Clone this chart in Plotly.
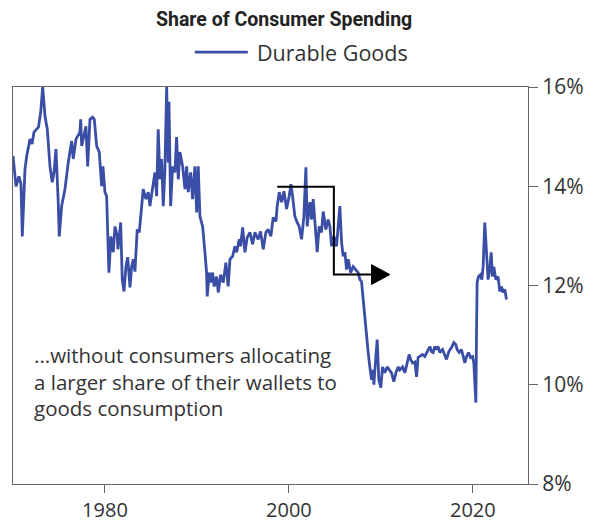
import plotly.graph_objects as go

# Durable goods share of consumer spending (%)
years = [
    1970.00, 1970.33, 1970.65, 1970.87, 1971.01, 1971.30, 1971.49, 1971.85, 1972.07, 1972.28,
    1972.58, 1972.77, 1973.01, 1973.23, 1973.48, 1973.73, 1974.02, 1974.27, 1974.46, 1974.67,
    1974.92, 1975.03, 1975.29, 1975.65, 1976.01, 1976.38, 1976.55, 1976.85, 1977.28, 1977.36,
    1977.47, 1977.93, 1978.12, 1978.37, 1978.66, 1978.84, 1979.10, 1979.38, 1979.64, 1979.78,
    1980.00, 1980.18, 1980.43, 1980.65, 1980.90, 1981.09, 1981.34, 1981.41, 1981.71, 1981.88,
    1982.07, 1982.28, 1982.47, 1982.72, 1982.90, 1983.08, 1983.26, 1983.51, 1983.73, 1983.99,
    1984.16, 1984.46, 1984.71, 1984.89, 1985.18, 1985.43, 1985.62, 1985.79, 1985.98, 1986.16,
    1986.34, 1986.52, 1986.71, 1986.88, 1986.96, 1987.14, 1987.36, 1987.61, 1987.79, 1987.97,
    1988.15, 1988.45, 1988.70, 1988.88, 1989.05, 1989.32, 1989.53, 1989.78, 1989.97, 1990.14,
    1990.33, 1990.62, 1990.87, 1991.05, 1991.12, 1991.34, 1991.52, 1991.71, 1991.88, 1992.14,
    1992.32, 1992.58, 1992.86, 1993.15, 1993.40, 1993.59, 1993.88, 1994.13, 1994.32, 1994.60,
    1994.75, 1994.97, 1995.22, 1995.47, 1995.76, 1996.05, 1996.30, 1996.66, 1996.92, 1997.21,
    1997.50, 1997.75, 1998.04, 1998.29, 1998.59, 1998.73, 1998.95, 1999.21, 1999.46, 1999.75,
    2000.03, 2000.22, 2000.40, 2000.65, 2000.90, 2001.12, 2001.38, 2001.63, 2001.85, 2001.99,
    2002.28, 2002.47, 2002.64, 2002.93, 2003.08, 2003.29, 2003.55, 2003.73, 2004.02, 2004.27,
    2004.46, 2004.64, 2004.89, 2005.18, 2005.54, 2005.73, 2005.90, 2006.09, 2006.27, 2006.45,
    2006.71, 2006.99, 2007.28, 2007.53, 2007.72, 2007.90, 2008.08, 2008.26, 2008.45, 2008.62,
    2008.80, 2008.99, 2009.16, 2009.24, 2009.35, 2009.60, 2009.78, 2010.00, 2010.18, 2010.43,
    2010.68, 2010.90, 2011.16, 2011.41, 2011.63, 2011.88, 2012.07, 2012.36, 2012.61, 2012.86,
    2013.08, 2013.23, 2013.45, 2013.70, 2013.88, 2014.05, 2014.24, 2014.53, 2014.78, 2015.03,
    2015.33, 2015.51, 2015.68, 2015.87, 2016.05, 2016.23, 2016.41, 2016.71, 2016.96, 2017.14,
    2017.39, 2017.68, 2017.93, 2018.15, 2018.29, 2018.51, 2018.77, 2018.95, 2019.13, 2019.32,
    2019.53, 2019.75, 2019.97, 2020.11, 2020.22, 2020.33, 2020.40, 2020.47, 2020.62, 2020.84,
    2020.98, 2021.12, 2021.30, 2021.49, 2021.66, 2021.85, 2021.99, 2022.14, 2022.28, 2022.50,
    2022.75, 2022.93, 2023.12, 2023.29, 2023.48, 2023.66,
]
durable_share = [
    14.61, 14.00, 14.20, 14.04, 12.99, 14.34, 14.61, 14.95, 14.85, 15.09,
    15.15, 15.19, 15.49, 16.00, 15.41, 15.15, 14.40, 14.08, 14.28, 14.75,
    13.68, 12.99, 13.60, 13.94, 14.48, 14.91, 14.55, 14.95, 15.09, 15.35,
    14.81, 15.21, 14.40, 15.35, 15.39, 15.35, 14.81, 14.69, 14.00, 14.40,
    13.88, 13.80, 12.26, 12.99, 12.67, 13.19, 12.99, 12.73, 13.27, 12.12,
    11.88, 12.38, 12.57, 11.96, 12.38, 12.53, 12.28, 13.13, 13.07, 13.60,
    13.94, 13.74, 13.88, 13.60, 14.00, 14.28, 13.80, 15.15, 14.14, 14.55,
    13.60, 14.34, 16.00, 14.48, 15.70, 13.60, 14.40, 14.28, 14.99, 14.14,
    14.69, 14.40, 13.94, 14.40, 13.88, 14.28, 13.74, 14.40, 13.47, 14.40,
    13.39, 13.19, 12.67, 12.26, 11.78, 12.26, 12.06, 12.26, 11.98, 12.18,
    11.86, 12.22, 12.06, 12.46, 11.98, 12.53, 12.59, 12.79, 12.67, 12.93,
    12.79, 13.17, 12.67, 12.97, 13.07, 12.83, 13.07, 12.93, 13.09, 12.73,
    13.07, 13.13, 12.99, 13.37, 13.29, 13.60, 13.88, 13.68, 13.90, 13.54,
    13.80, 14.04, 13.80, 13.39, 13.27, 13.19, 12.93, 13.39, 14.38, 13.19,
    13.68, 13.33, 13.74, 12.99, 12.67, 13.19, 13.07, 13.49, 13.13, 13.33,
    13.19, 12.79, 12.99, 12.79, 13.60, 12.87, 12.59, 12.67, 12.32, 12.53,
    12.26, 12.38, 12.32, 12.26, 12.12, 12.08, 11.72, 11.31, 10.97, 10.65,
    10.36, 10.10, 10.30, 10.00, 10.30, 10.91, 10.10, 9.94, 10.36, 10.24,
    10.36, 10.30, 10.24, 10.06, 10.24, 10.36, 10.30, 10.36, 10.24, 10.44,
    10.61, 10.51, 10.44, 10.46, 10.16, 10.55, 10.57, 10.61, 10.57, 10.67,
    10.77, 10.67, 10.65, 10.77, 10.71, 10.77, 10.65, 10.71, 10.61, 10.51,
    10.67, 10.75, 10.85, 10.81, 10.71, 10.65, 10.71, 10.57, 10.44, 10.57,
    10.65, 10.55, 10.57, 10.44, 9.96, 9.64, 11.05, 12.06, 12.18, 12.22,
    12.12, 12.38, 13.27, 12.73, 12.12, 12.32, 12.67, 12.18, 12.38, 12.12,
    12.18, 11.88, 11.98, 11.86, 11.92, 11.72,
]

x_ticks = [1980, 2000, 2020]
y_ticks = [8, 10, 12, 14, 16]
y_labels = ["8%", "10%", "12%", "14%", "16%"]

# step arrow: from the 2000 peak level down to the post-GFC level
step_x = [1998.73, 2004.89, 2010.98]
step_y = [13.99, 12.22]
arrow_len = 2.0
arrow_half = 0.2

note = "...without consumers allocating<br>a larger share of their wallets to<br>goods consumption"

BLUE = "#3a4ea6"
FONT = "Open Sans"
TEXT = "#333333"

fig = go.Figure()
fig.add_trace(
    go.Scatter(
        x=years,
        y=durable_share,
        mode="lines",
        name="Durable Goods",
        line=dict(color=BLUE, width=2.8),
        showlegend=False,
    )
)

# step-down path with arrow head
x0, x1, x2 = step_x
fig.add_shape(
    type="path",
    path=f"M {x0},{step_y[0]} L {x1},{step_y[0]} L {x1},{step_y[1]} L {x2 - arrow_len},{step_y[1]}",
    line=dict(color="black", width=2),
)
fig.add_shape(
    type="path",
    path=f"M {x2 - arrow_len},{step_y[1] + arrow_half} L {x2},{step_y[1]} L {x2 - arrow_len},{step_y[1] - arrow_half} Z",
    fillcolor="black",
    line=dict(color="black", width=1),
)

# manual legend above the plot
fig.add_shape(type="line", xref="paper", yref="paper", x0=0.353, x1=0.456, y0=1.088, y1=1.088,
              line=dict(color=BLUE, width=2.8))
fig.add_annotation(xref="paper", yref="paper", x=0.470, y=1.088, text="Durable Goods",
                   showarrow=False, xanchor="left", yanchor="middle",
                   font=dict(family=FONT, size=21.5, color=TEXT))
fig.add_annotation(xref="paper", yref="paper", x=0.526, y=1.169, text="<b>Share of Consumer Spending</b>",
                   showarrow=False, xanchor="center", yanchor="middle",
                   font=dict(family="Roboto", size=19.5, color="#222222"))
fig.add_annotation(xref="paper", yref="paper", x=0.037, y=0.365, text=note,
                   showarrow=False, xanchor="left", yanchor="top", align="left",
                   font=dict(family=FONT, size=20.5, color=TEXT))

# the page body adds 8px of margin, so the figure is 8px smaller than the window
fig.update_layout(
    width=589,
    height=516,
    plot_bgcolor="white",
    paper_bgcolor="white",
    margin=dict(l=5, r=69, t=79, b=40, autoexpand=False),
    font=dict(family=FONT, size=21, color=TEXT),
)
fig.update_xaxes(
    range=[1970, 2026],
    tickvals=x_ticks,
    ticks="outside",
    ticklen=8,
    tickcolor="#666",
    tickfont=dict(size=20),
    showline=True,
    linecolor="#666",
    linewidth=1,
    mirror=True,
    showgrid=False,
    zeroline=False,
    automargin=False,
)
fig.update_yaxes(
    range=[8, 16],
    side="right",
    tickvals=y_ticks,
    ticktext=y_labels,
    ticks="outside",
    ticklen=9,
    tickcolor="#666",
    showline=True,
    linecolor="#666",
    linewidth=1,
    mirror=True,
    showgrid=False,
    zeroline=False,
    automargin=False,
)

fig.write_html("out.html")
